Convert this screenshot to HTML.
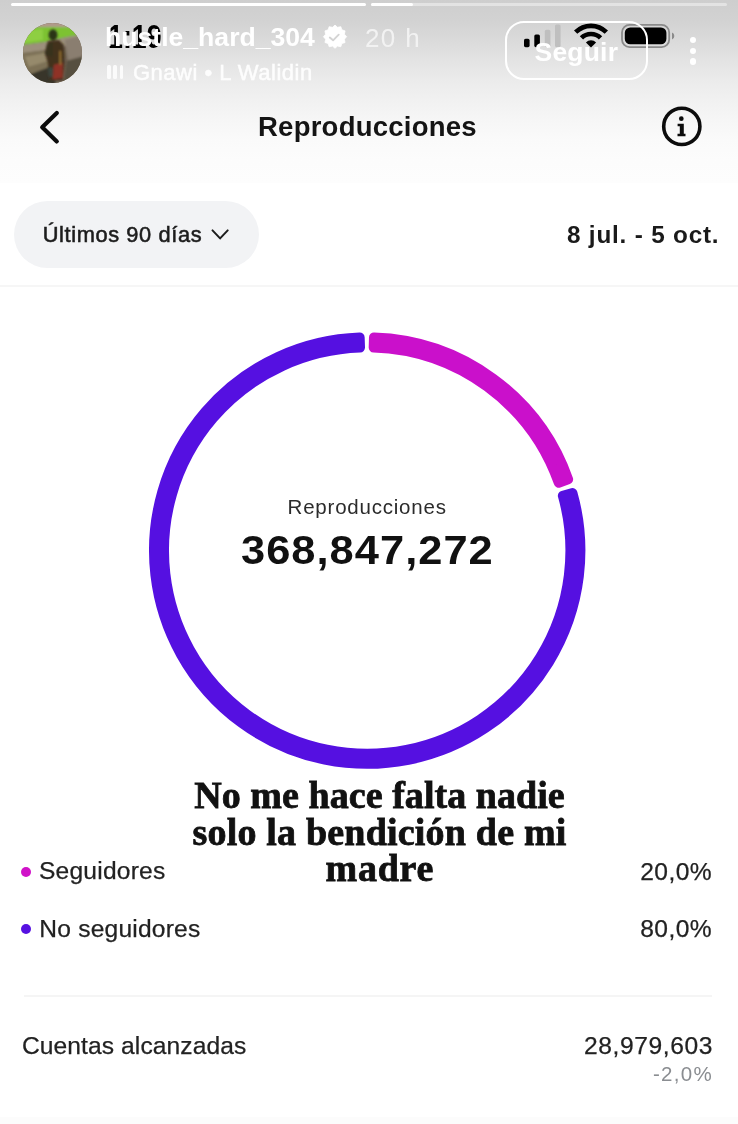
<!DOCTYPE html>
<html><head><meta charset="utf-8">
<style>
html,body{margin:0;padding:0;}
body{width:738px;height:1124px;overflow:hidden;background:#fff;font-family:"Liberation Sans",sans-serif;position:relative;}
.abs{position:absolute;white-space:nowrap;}
#topgrad{left:0;top:0;width:738px;height:183px;background:linear-gradient(to bottom,#cecece 0px,#d2d2d2 20px,#dadada 40px,#e3e3e3 60px,#ebebeb 80px,#f1f1f1 100px,#f6f6f6 120px,#fafafa 140px,#fcfcfc 160px,#fdfdfd 183px);}
</style></head>
<body>
<div id="topgrad" class="abs"></div>

<!-- story progress bars -->
<div class="abs" style="left:11px;top:3px;width:355px;height:3px;border-radius:2px;background:#fff;"></div>
<div class="abs" style="left:371px;top:3px;width:356px;height:3px;border-radius:2px;background:#e3e3e3;"></div>
<div class="abs" style="left:371px;top:3px;width:42px;height:3px;border-radius:2px;background:#fff;"></div>

<!-- avatar -->
<div class="abs" id="avatar" style="left:22.8px;top:23.3px;width:59.6px;height:59.6px;border-radius:50%;overflow:hidden;background:#6b5f4a;">
<svg width="59.6" height="59.6" viewBox="0 0 60 60">
<defs><filter id="b1" x="-20%" y="-20%" width="140%" height="140%"><feGaussianBlur stdDeviation="1.3"/></filter>
<filter id="b2" x="-20%" y="-20%" width="140%" height="140%"><feGaussianBlur stdDeviation="0.9"/></filter></defs>
<g filter="url(#b1)">
<rect x="-6" y="-6" width="72" height="72" fill="#6f6353"/>
<path d="M-6 -6 H66 V5 H-6Z" fill="#b09a8a"/>
<path d="M-6 4 H66 V11 L44 14 L24 19 L-6 23Z" fill="#7dc233"/>
<path d="M-6 8 L20 6 L20 17 L-6 21Z" fill="#8ecf42"/>
<path d="M-6 23 L24 19 L44 14 L66 10 V20 L44 23 L26 27 L-6 31Z" fill="#9c907c"/>
<path d="M-6 31 L26 27 L30 44 L4 54 L-6 50Z" fill="#7d7157"/>
<path d="M2 34 L24 30 L26 38 L6 44Z" fill="#968a6c"/>
<path d="M42 17 L66 11 V36 L46 42Z" fill="#8a7e70"/>
<path d="M44 38 L66 32 V66 H40Z" fill="#57503f"/>
<path d="M-6 50 L6 52 L30 43 L34 66 H-6Z" fill="#38362a"/>
<path d="M-6 44 L8 49 L3 55 L-6 55Z" fill="#6a604c"/>
</g>
<g filter="url(#b2)">
<ellipse cx="30.2" cy="12" rx="4.5" ry="5.6" fill="#2a3519"/>
<path d="M25 18 L36 17 L41 22 L42 40 L40 58 L27 58 L25 40 L22 30Z" fill="#43301f"/>
<path d="M24 22 L30 19 L30 34 L22 32Z" fill="#38321f"/>
<path d="M31 42 L40 40 L40 55 L30 57Z" fill="#8f3026"/>
<path d="M36.6 28 L38.2 28 L38.6 42 L36.6 42Z" fill="#9a7430"/>
<path d="M25 45 L30 45 L30 54 L26 54Z" fill="#3b4640"/>
</g>
</svg>
</div>

<!-- time + username -->
<div id="t_time" class="abs m" style="left:108px;top:18px;font-size:33.5px;font-weight:bold;color:#000;transform:scaleX(0.8);transform-origin:0 0;">1:19</div>
<div id="t_user" class="abs m" style="left:105px;top:22px;font-size:26.6px;font-weight:bold;color:#fff;">hustle_hard_304</div>
<svg class="abs" style="left:320px;top:22px" width="30" height="30" viewBox="320 22 30 30">
<polygon points="335.00,25.10 337.51,27.33 340.80,26.65 341.86,29.84 345.05,30.90 344.37,34.19 346.60,36.70 344.37,39.21 345.05,42.50 341.86,43.56 340.80,46.75 337.51,46.07 335.00,48.30 332.49,46.07 329.20,46.75 328.14,43.56 324.95,42.50 325.63,39.21 323.40,36.70 325.63,34.19 324.95,30.90 328.14,29.84 329.20,26.65 332.49,27.33" fill="#fff" stroke="#fff" stroke-width="0.8" stroke-linejoin="round"/>
<path d="M329.8 37.5 L333.1 40.3 L338.7 34.7" stroke="#d4d4d4" stroke-width="1.9" fill="none" stroke-linecap="round" stroke-linejoin="round"/>
</svg>
<div id="t_20h" class="abs m" style="left:365px;top:22.5px;font-size:26px;letter-spacing:1.4px;color:#f2f2f2;">20 h</div>
<div class="abs" style="left:107px;top:65px;width:3.6px;height:14px;border-radius:1.5px;background:#fbfbfb;"></div>
<div class="abs" style="left:113.3px;top:65px;width:3.6px;height:14px;border-radius:1.5px;background:#fbfbfb;"></div>
<div class="abs" style="left:119.6px;top:65px;width:3.6px;height:14px;border-radius:1.5px;background:#fbfbfb;"></div>
<div id="t_sub" class="abs m" style="left:133px;top:60px;font-size:22px;letter-spacing:0.5px;color:#fdfdfd;-webkit-text-stroke:0.45px #fdfdfd;">Gnawi • L Walidin</div>

<!-- status icons -->
<svg class="abs" style="left:518px;top:18px" width="165" height="40" viewBox="518 18 165 40">
 <rect x="524" y="38.8" width="5.6" height="8.4" rx="1.6" fill="#000"/>
 <rect x="534.3" y="34.5" width="5.6" height="12.7" rx="1.6" fill="#000"/>
 <rect x="544.8" y="29.8" width="5.6" height="17.4" rx="1.6" fill="#bfbfbf"/>
 <rect x="555" y="24.5" width="5.6" height="22.7" rx="1.6" fill="#bfbfbf"/>
 <g fill="none" stroke="#000" stroke-linecap="butt">
  <path d="M575.66 32.16 A21.7 21.7 0 0 1 606.34 32.16" stroke-width="4.7"/>
  <path d="M581.45 37.95 A13.5 13.5 0 0 1 600.55 37.95" stroke-width="4.7"/>
 </g>
 <path d="M585.9 42.4 A7.2 7.2 0 0 1 596.1 42.4 L591 47.6z" fill="#000"/>
 <rect x="622" y="24.8" width="47.2" height="22.4" rx="7.6" fill="none" stroke="#8a8a8a" stroke-width="1.8"/>
 <rect x="624.8" y="27.4" width="41.6" height="16.9" rx="5.4" fill="#000"/>
 <path d="M672 32.4 a3.4 3.8 0 0 1 0 7.2z" fill="#8a8a8a"/>
</svg>
<div class="abs" style="left:505px;top:21px;width:139px;height:54.5px;border:2px solid #fff;border-radius:19px;"></div>
<div id="t_seguir" class="abs m" style="left:534.5px;top:36.6px;font-size:26.5px;letter-spacing:0.2px;font-weight:bold;color:#fff;">Seguir</div>
<!-- 3 dots -->
<div class="abs" style="left:689.8px;top:37px;width:6.4px;height:6.4px;border-radius:50%;background:#fff;"></div>
<div class="abs" style="left:689.8px;top:47.7px;width:6.4px;height:6.4px;border-radius:50%;background:#fff;"></div>
<div class="abs" style="left:689.8px;top:58.4px;width:6.4px;height:6.4px;border-radius:50%;background:#fff;"></div>

<!-- header -->
<svg class="abs" style="left:36px;top:108px" width="30" height="40" viewBox="0 0 30 40"><path d="M20.8 5 L6.2 19.2 L20.8 33.4" fill="none" stroke="#0c0c0c" stroke-width="4.2" stroke-linecap="round" stroke-linejoin="round"/></svg>
<div id="t_title" class="abs m" style="left:258px;top:111.3px;letter-spacing:0.24px;font-size:27.5px;font-weight:bold;color:#141414;">Reproducciones</div>
<svg class="abs" style="left:660px;top:104px" width="44" height="46" viewBox="660 104 44 46"><circle cx="681.8" cy="126.4" r="18.1" fill="none" stroke="#0c0c0c" stroke-width="3.6"/><circle cx="681.3" cy="118.7" r="2.35" fill="#0c0c0c"/><path d="M677.6 123.8 h6.2 v9.9 h1.7 v2.5 h-8 v-2.5 h2.3 v-7.4 h-2.2z" fill="#0c0c0c"/></svg>



<!-- filter pill -->
<div class="abs" style="left:14px;top:201px;width:244.5px;height:67px;border-radius:34px;background:#f2f3f5;"></div>
<div id="t_pill" class="abs m" style="left:42.7px;top:222.2px;letter-spacing:0.62px;font-size:21.8px;font-weight:normal;-webkit-text-stroke:0.55px #1c1c1c;color:#1c1c1c;">Últimos 90 días</div>
<svg class="abs" style="left:205px;top:225px" width="30" height="20" viewBox="205 225 30 20"><path d="M212.5 230.4 L220.1 238.4 L227.7 230.4" fill="none" stroke="#1c1c1c" stroke-width="2" stroke-linecap="round" stroke-linejoin="round"/></svg>
<div id="t_date" class="abs m" style="right:18.6px;top:220.6px;letter-spacing:0.8px;font-size:24.3px;font-weight:bold;color:#1a1a1a;">8 jul. - 5 oct.</div>

<div class="abs" style="left:0;top:284.5px;width:738px;height:2px;background:#f6f6f6;"></div>

<!-- donut -->
<svg class="abs" style="left:0;top:300px" width="738" height="500" viewBox="0 300 738 500">
<path d="M373.99 337.51 A213.2 213.2 0 0 1 568.14 479.34 L558.71 482.68 A203.2 203.2 0 0 0 373.68 347.50Z" fill="#ca10cb" stroke="#ca10cb" stroke-width="10.0" stroke-linejoin="round"/>
<path d="M572.47 493.00 A213.2 213.2 0 1 1 359.66 337.53 L360.01 347.53 A203.2 203.2 0 1 0 562.84 495.70Z" fill="#5510e1" stroke="#5510e1" stroke-width="10.0" stroke-linejoin="round"/>
</svg>
<div id="t_rep" class="abs m" style="left:287.6px;top:494.5px;font-size:20.5px;letter-spacing:0.78px;color:#2b2b2b;">Reproducciones</div>
<div id="t_num" class="abs m" style="left:241px;top:527.4px;font-size:41px;letter-spacing:0.95px;transform:scaleX(1.06);transform-origin:0 0;font-weight:bold;color:#111;">368,847,272</div>

<!-- caption -->
<div id="t_cap" class="abs m" style="left:0;width:759px;top:777px;text-align:center;font-family:'Liberation Serif','DejaVu Serif',serif;font-weight:bold;font-size:38px;line-height:36.5px;color:#111;white-space:normal;-webkit-text-stroke:0.8px #111;"><span id="c1" style="letter-spacing:0.05px;">No me hace falta nadie</span><br><span id="c2" style="letter-spacing:0.2px;">solo la bendición de mi</span><br><span id="c3" style="letter-spacing:0.75px;margin-left:0.75px;">madre</span></div>

<!-- legend -->
<div class="abs" style="left:21.4px;top:867.2px;width:10px;height:10px;border-radius:50%;background:#d012c8;"></div>
<div id="t_seg" class="abs m" style="left:39px;top:857px;letter-spacing:0.2px;font-size:24.6px;color:#222;-webkit-text-stroke:0.25px #222;">Seguidores</div>
<div id="t_20" class="abs m" style="right:26px;top:858px;letter-spacing:0.4px;font-size:24.6px;color:#222;-webkit-text-stroke:0.25px #222;">20,0%</div>
<div class="abs" style="left:21.4px;top:923.8px;width:10px;height:10px;border-radius:50%;background:#5611e1;"></div>
<div id="t_noseg" class="abs m" style="left:39.3px;top:915px;letter-spacing:0.2px;font-size:24.6px;color:#222;-webkit-text-stroke:0.25px #222;">No seguidores</div>
<div id="t_80" class="abs m" style="right:26px;top:915px;letter-spacing:0.4px;font-size:24.6px;color:#222;-webkit-text-stroke:0.25px #222;">80,0%</div>

<div class="abs" style="left:23.5px;top:995.3px;width:688.5px;height:2px;background:#f5f5f5;"></div>

<div id="t_cuentas" class="abs m" style="left:22px;top:1031.5px;letter-spacing:0.08px;font-size:24.6px;color:#222;-webkit-text-stroke:0.25px #222;">Cuentas alcanzadas</div>
<div id="t_28" class="abs m" style="right:25px;top:1031.6px;letter-spacing:0.6px;font-size:24.6px;color:#222;-webkit-text-stroke:0.25px #222;">28,979,603</div>
<div id="t_m2" class="abs m" style="right:25px;top:1061.8px;letter-spacing:1.3px;font-size:20.5px;color:#8a8d91;">-2,0%</div>
<div class="abs" style="left:0;top:1117px;width:738px;height:7px;background:#fcfcfc;"></div>
</body></html>
